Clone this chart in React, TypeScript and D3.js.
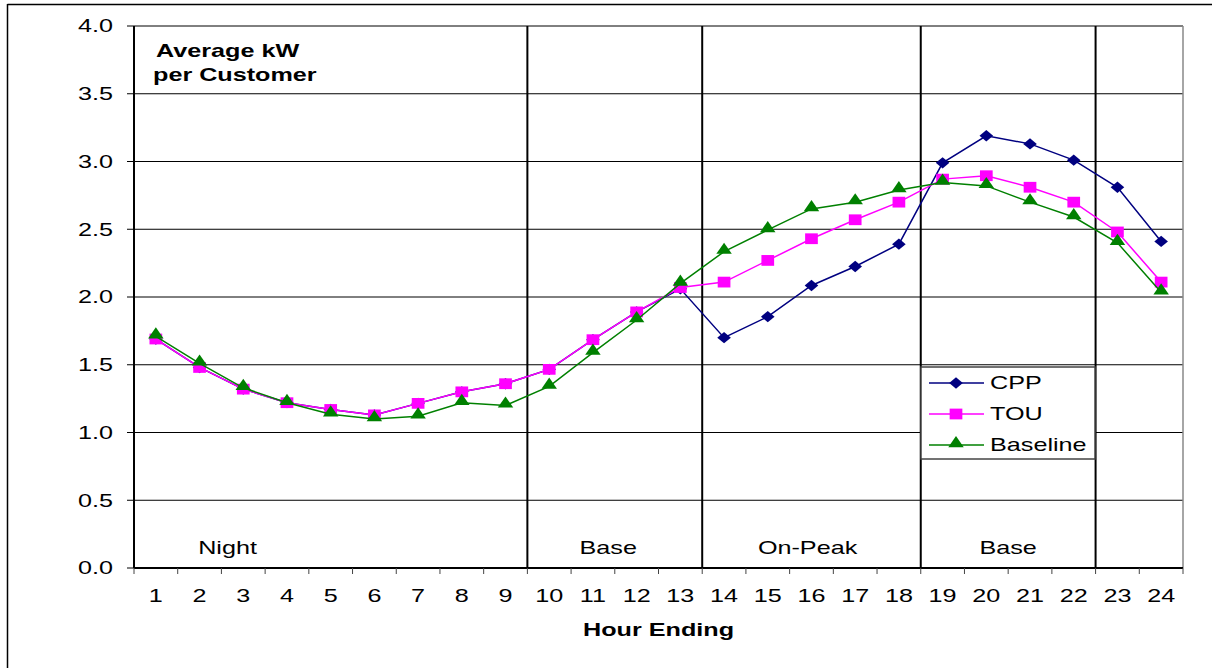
import React from "react";
import * as d3 from "d3";

// Hourly load profile data (average kW per customer)
const hours: number[] = d3.range(1, 25);
const cppValues: number[] = [1.69, 1.48, 1.32, 1.22, 1.17, 1.13, 1.215, 1.3, 1.36, 1.466, 1.685, 1.89, 2.06, 1.7, 1.855, 2.085, 2.225, 2.39, 2.99, 3.19, 3.13, 3.01, 2.81, 2.41];
const touValues: number[] = [1.69, 1.48, 1.32, 1.22, 1.17, 1.13, 1.215, 1.3, 1.36, 1.466, 1.685, 1.89, 2.07, 2.11, 2.27, 2.43, 2.57, 2.7, 2.87, 2.895, 2.81, 2.7, 2.48, 2.11];
const baselineValues: number[] = [1.71, 1.51, 1.33, 1.22, 1.135, 1.1, 1.12, 1.22, 1.2, 1.34, 1.59, 1.83, 2.1, 2.335, 2.495, 2.65, 2.7, 2.79, 2.845, 2.82, 2.7, 2.59, 2.4, 2.035];

const yTicks: number[] = [0, 0.5, 1, 1.5, 2, 2.5, 3, 3.5, 4];

// Rate periods: first hour of each period, and where its label sits (in hour units)
const periodNames: string[] = ["Night", "Base", "On-Peak", "Base", ""];
const periodStart: number[] = [1, 10, 14, 19, 23];
const periodLabelHour: number[] = [2.64, 11.35, 15.91, 20.5, 23.5];

const seriesNames: string[] = ["CPP", "TOU", "Baseline"];
const seriesColors: string[] = ["#000080", "#FF00FF", "#008000"];

const W = 1212;
const H = 668;
const margin = { left: 134, right: 29, top: 26, bottom: 100 };
const font = "Arial, 'Liberation Sans', sans-serif";
const FS = 18;
const SX = 1.4; // horizontal stretch of the lettering

// marker shapes per series
const markerPaths: string[] = [
  d3.symbol().type(d3.symbolDiamond2).size(82)() || "",
  d3.symbol().type(d3.symbolSquare).size(116)() || "",
  d3.symbol().type(d3.symbolTriangle).size(72)() || "",
];
const markerScaleX: number[] = [1.2, 1.18, 1.2];
const markerOffsetY: number[] = [0, 0, -1.5];

type TxtProps = {
  x: number;
  y: number;
  anchor?: "start" | "middle" | "end";
  bold?: boolean;
  dy?: string;
  children: React.ReactNode;
};

function Txt({ x, y, anchor = "start", bold = false, dy, children }: TxtProps) {
  return (
    <text
      transform={`translate(${x},${y}) scale(${SX},1)`}
      textAnchor={anchor}
      fontSize={FS}
      fontWeight={bold ? "bold" : "normal"}
      dy={dy}
      fill="#000"
    >
      {children}
    </text>
  );
}

function Marker({ s, x, y }: { s: number; x: number; y: number }) {
  return (
    <path
      d={markerPaths[s]}
      transform={`translate(${x},${y + markerOffsetY[s]}) scale(${markerScaleX[s]},1)`}
      fill={seriesColors[s]}
    />
  );
}

export default function App() {
  const plotW = W - margin.left - margin.right;
  const plotH = H - margin.top - margin.bottom;

  const x = d3.scaleBand<number>().domain(hours).range([margin.left, margin.left + plotW]);
  const y = d3.scaleLinear().domain([0, 4]).range([margin.top + plotH, margin.top]);
  const cx = (h: number) => (x(h) as number) + x.bandwidth() / 2;
  const hx = d3.scaleLinear().domain([0.5, 24.5]).range([margin.left, margin.left + plotW]);

  const line = d3
    .line<number>()
    .x((_, i) => cx(hours[i]))
    .y((v) => y(v));

  const allSeries = [cppValues, touValues, baselineValues];
  const bottom = y(0);
  const right = margin.left + plotW;

  // boundaries between periods
  const dividers = periodStart.slice(1).map((h) => x(h) as number);

  const legendX = 921;
  const legendY = 367;

  return (
    <svg width={W} height={H} style={{ display: "block", position: "absolute", left: 0, top: 0 }} fontFamily={font}>
      <rect x={0} y={0} width={W} height={H} fill="#fff" />
      {/* outer frame */}
      <line x1={7.5} x2={7.5} y1={4} y2={H} stroke="#000" strokeWidth={1.5} />
      <line x1={7.5} x2={W} y1={4.5} y2={4.5} stroke="#000" strokeWidth={1.5} />

      {/* horizontal gridlines */}
      {yTicks.slice(1).map((t) => (
        <line key={t} x1={margin.left} x2={right} y1={y(t)} y2={y(t)} stroke="#000" strokeWidth={1} />
      ))}
      {/* right edge of plot */}
      <line x1={right} x2={right} y1={margin.top} y2={bottom} stroke="#888" strokeWidth={1.5} />

      {/* period dividers */}
      {dividers.map((d, i) => (
        <line key={i} x1={d} x2={d} y1={margin.top} y2={bottom} stroke="#000" strokeWidth={2} />
      ))}

      {/* y axis */}
      <line x1={margin.left} x2={margin.left} y1={margin.top} y2={bottom} stroke="#000" strokeWidth={2} />
      {yTicks.map((t) => (
        <g key={t}>
          <line x1={margin.left - 7} x2={margin.left} y1={y(t)} y2={y(t)} stroke="#000" strokeWidth={1} />
          <Txt x={margin.left - 21} y={y(t)} anchor="end" dy="0.35em">
            {t.toFixed(1)}
          </Txt>
        </g>
      ))}

      {/* x axis */}
      <line x1={margin.left} x2={right} y1={bottom} y2={bottom} stroke="#000" strokeWidth={2} />
      {hours.concat([25]).map((h) => {
        const xx = h <= 24 ? (x(h) as number) : right;
        return <line key={h} x1={xx} x2={xx} y1={bottom} y2={bottom + 6} stroke="#444" strokeWidth={1} />;
      })}
      {hours.map((h) => (
        <Txt key={h} x={cx(h)} y={bottom + 34} anchor="middle">
          {h}
        </Txt>
      ))}
      <Txt x={(margin.left + right) / 2} y={bottom + 68} anchor="middle" bold>
        Hour Ending
      </Txt>

      {/* period labels */}
      {periodNames.map((name, i) =>
        name ? (
          <Txt key={i} x={hx(periodLabelHour[i])} y={bottom - 14} anchor="middle">
            {name}
          </Txt>
        ) : null
      )}

      {/* chart title inside plot */}
      <Txt x={156} y={57} bold>
        Average kW
      </Txt>
      <Txt x={153} y={81} bold>
        per Customer
      </Txt>

      {/* series */}
      {allSeries.map((vals, s) => (
        <g key={s}>
          <path d={line(vals) || ""} fill="none" stroke={seriesColors[s]} strokeWidth={1.5} />
          {vals.map((v, i) => (
            <Marker key={i} s={s} x={cx(hours[i])} y={y(v)} />
          ))}
        </g>
      ))}

      {/* legend */}
      <rect x={legendX} y={legendY} width={174} height={92} fill="#fff" stroke="#444" strokeWidth={1.5} />
      {seriesNames.map((name, i) => {
        const ly = legendY + 16 + i * 31;
        return (
          <g key={name}>
            <line x1={legendX + 8} x2={legendX + 63} y1={ly} y2={ly} stroke={seriesColors[i]} strokeWidth={1.5} />
            <Marker s={i} x={legendX + 35} y={ly} />
            <Txt x={legendX + 69} y={ly} dy="0.35em">
              {name}
            </Txt>
          </g>
        );
      })}
    </svg>
  );
}
